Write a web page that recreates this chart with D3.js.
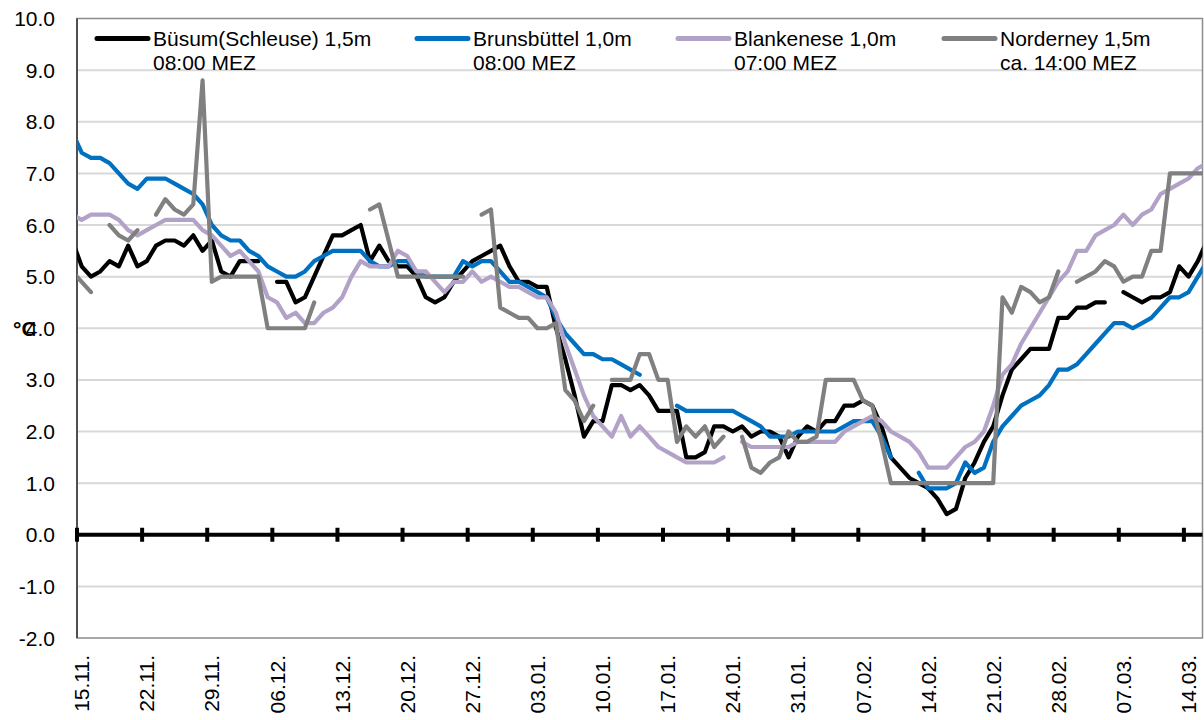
<!DOCTYPE html>
<html>
<head>
<meta charset="utf-8">
<script src="https://cdn.jsdelivr.net/npm/d3@7"></script>
<style>
  html, body { margin: 0; padding: 0; background: #fff; }
  svg { display: block; }
  text { font-family: "Liberation Sans", Arial, sans-serif; }
</style>
</head>
<body>
<svg id="chart" width="1204" height="720"></svg>
<script>
// ---------------- DATA ----------------
// daily values, first entry = 14.11. (just left of the axis), last = 16.03.
const firstDay = -1;   // 14.11. relative to 15.11.
const tickLabels = ["15.11.","22.11.","29.11.","06.12.","13.12.","20.12.","27.12.","03.01.","10.01.","17.01.","24.01.","31.01.","07.02.","14.02.","21.02.","28.02.","07.03.","14.03."];
const yTicks = [-2,-1,0,1,2,3,4,5,6,7,8,9,10];

const busum = [5.7,
 5.2,5.0,5.1,5.3,5.2,5.6,5.2,5.3,5.6,5.7,5.7,5.6,5.8,5.5,5.7,5.1,5.0,5.3,5.3,5.3,
 null,4.9,4.9,4.5,4.6,5.0,5.4,5.8,5.8,5.9,6.0,5.3,5.6,5.3,5.2,5.2,5.0,4.6,4.5,4.6,
 4.9,5.1,5.3,5.4,5.5,5.6,5.2,4.9,4.9,4.8,4.8,4.0,3.4,2.7,1.9,2.2,2.2,2.9,2.9,2.8,
 2.9,2.7,2.4,2.4,2.4,1.5,1.5,1.6,2.1,2.1,2.0,2.1,1.9,2.0,2.0,1.9,1.5,1.9,2.1,2.0,
 2.2,2.2,2.5,2.5,2.6,2.5,2.1,1.5,1.3,1.1,1.0,0.9,0.7,0.4,0.5,1.1,1.4,1.8,2.1,2.7,
 3.2,3.4,3.6,3.6,3.6,4.2,4.2,4.4,4.4,4.5,4.5,null,4.7,4.6,4.5,4.6,4.6,4.7,5.2,5.0,
 5.3,5.7];

const brunsbuettel = [7.8,
 7.4,7.3,7.3,7.2,7.0,6.8,6.7,6.9,6.9,6.9,6.8,6.7,6.6,6.4,6.0,5.8,5.7,5.7,5.5,5.4,
 5.2,5.1,5.0,5.0,5.1,5.3,5.4,5.5,5.5,5.5,5.5,5.3,5.2,5.2,5.3,5.3,5.1,5.0,5.0,5.0,
 5.0,5.3,5.2,5.3,5.3,5.1,4.9,4.9,4.8,4.7,4.6,4.2,3.9,3.7,3.5,3.5,3.4,3.4,3.3,3.2,
 3.1,null,null,null,2.5,2.4,2.4,2.4,2.4,2.4,2.4,2.3,2.2,2.1,1.9,1.9,1.9,2.0,2.0,2.0,
 2.0,2.0,2.1,2.2,2.2,2.2,1.9,1.5,null,null,1.2,0.9,0.9,0.9,1.0,1.4,1.2,1.3,1.8,2.1,
 2.3,2.5,2.6,2.7,2.9,3.2,3.2,3.3,3.5,3.7,3.9,4.1,4.1,4.0,4.1,4.2,4.4,4.6,4.6,4.7,
 5.0,5.3];

const blankenese = [6.2,
 6.1,6.2,6.2,6.2,6.1,5.9,5.8,5.9,6.0,6.1,6.1,6.1,6.1,5.9,5.8,5.6,5.4,5.5,5.3,5.1,
 4.6,4.5,4.2,4.3,4.1,4.1,4.3,4.4,4.6,5.0,5.3,5.2,5.2,5.2,5.5,5.4,5.1,5.1,4.9,4.7,
 4.9,4.9,5.1,4.9,5.0,4.9,4.8,4.8,4.7,4.6,4.6,4.3,3.7,3.2,2.7,2.3,2.1,1.9,2.3,1.9,
 2.1,1.9,1.7,1.6,1.5,1.4,1.4,1.4,1.4,1.5,null,1.8,1.7,1.7,1.7,1.7,1.7,1.8,1.8,1.8,
 1.8,1.8,2.0,2.1,2.2,2.3,2.2,2.0,1.9,1.8,1.6,1.3,1.3,1.3,1.5,1.7,1.8,2.0,2.5,3.1,
 3.3,3.7,4.0,4.3,4.6,4.9,5.1,5.5,5.5,5.8,5.9,6.0,6.2,6.0,6.2,6.3,6.6,6.7,6.8,6.9,
 7.1,7.2];

const norderney = [5.1,
 4.9,4.7,null,6.0,5.8,5.7,5.9,null,6.2,6.5,6.3,6.2,6.4,8.8,4.9,5.0,5.0,5.0,5.0,5.0,
 4.0,4.0,4.0,4.0,4.0,4.5,null,null,null,null,null,6.3,6.4,5.7,5.0,5.0,5.0,5.0,5.0,5.0,
 5.0,5.0,null,6.2,6.3,4.4,4.3,4.2,4.2,4.0,4.0,4.1,2.8,2.6,2.2,2.5,null,3.0,3.0,3.0,
 3.5,3.5,3.0,3.0,1.8,2.1,1.9,2.1,1.7,1.9,null,1.9,1.3,1.2,1.4,1.5,2.0,1.8,1.8,1.9,
 3.0,3.0,3.0,3.0,2.6,2.5,1.8,1.0,1.0,1.0,1.0,1.0,1.0,1.0,1.0,1.0,1.0,1.0,1.0,4.6,
 4.3,4.8,4.7,4.5,4.6,5.1,null,4.9,5.0,5.1,5.3,5.2,4.9,5.0,5.0,5.5,5.5,7.0,7.0,7.0,
 7.0,7.0];

const seriesNames = [
  ["Büsum(Schleuse) 1,5m", "08:00 MEZ"],
  ["Brunsbüttel 1,0m", "08:00 MEZ"],
  ["Blankenese 1,0m", "07:00 MEZ"],
  ["Norderney 1,5m", "ca. 14:00 MEZ"]
];
const seriesValues = [busum, brunsbuettel, blankenese, norderney];
const seriesColors = ["#000000", "#0070C0", "#B3A2C7", "#808080"];

// ---------------- LAYOUT ----------------
const plot = { left: 77, right: 1202.5, top: 18.5, bottom: 638 };
const totalDays = 121;
const legendX = [97, 417, 678, 944];
const fontSize = 21;

const svg = d3.select("#chart");

const x = d3.scaleLinear().domain([0, totalDays]).range([plot.left, plot.right]);
const y = d3.scaleLinear().domain([-2, 10]).range([plot.bottom, plot.top]);

// clip
svg.append("defs").append("clipPath").attr("id", "plotClip")
  .append("rect")
  .attr("x", plot.left).attr("y", plot.top)
  .attr("width", plot.right - plot.left).attr("height", plot.bottom - plot.top);

// gridlines
svg.append("g").selectAll("line")
  .data(yTicks.filter(v => v > -2 && v < 10))
  .join("line")
  .attr("x1", plot.left).attr("x2", plot.right)
  .attr("y1", d => y(d)).attr("y2", d => y(d))
  .attr("stroke", "#d9d9d9").attr("stroke-width", 2);

// plot border
svg.append("rect")
  .attr("x", plot.left).attr("y", plot.top)
  .attr("width", plot.right - plot.left).attr("height", plot.bottom - plot.top)
  .attr("fill", "none").attr("stroke", "#8c8c8c").attr("stroke-width", 1.5);

// left axis line
svg.append("line")
  .attr("x1", plot.left).attr("x2", plot.left)
  .attr("y1", plot.top).attr("y2", plot.bottom)
  .attr("stroke", "#3a3a3a").attr("stroke-width", 1.6);

// y labels
svg.append("g").selectAll("text")
  .data(yTicks)
  .join("text")
  .attr("x", 55).attr("y", d => y(d))
  .attr("dy", "0.36em")
  .attr("text-anchor", "end")
  .attr("font-size", fontSize)
  .attr("fill", "#000")
  .text(d => d.toFixed(1));

// y unit label
svg.append("text")
  .attr("x", 13).attr("y", y(4)).attr("dy", "0.36em")
  .attr("font-size", fontSize).attr("font-weight", "bold")
  .text("°C");

// zero line (category axis) with ticks
const tickDays = tickLabels.map((_, i) => i * 7);
svg.append("line")
  .attr("x1", plot.left).attr("x2", plot.right)
  .attr("y1", y(0)).attr("y2", y(0))
  .attr("stroke", "#000").attr("stroke-width", 4);
svg.append("g").selectAll("line")
  .data(tickDays)
  .join("line")
  .attr("x1", d => x(d)).attr("x2", d => x(d))
  .attr("y1", y(0) - 7).attr("y2", y(0) + 7)
  .attr("stroke", "#000").attr("stroke-width", 4);

// x labels (rotated)
svg.append("g").selectAll("text")
  .data(tickLabels)
  .join("text")
  .attr("transform", (d, i) => `translate(${x(tickDays[i] + 0.5)},655) rotate(-90)`)
  .attr("dy", "0.36em")
  .attr("text-anchor", "end")
  .attr("font-size", fontSize)
  .attr("fill", "#000")
  .text(d => d);

// series lines
const line = d3.line()
  .defined(d => d.v !== null)
  .x(d => x(d.day + 0.5))
  .y(d => y(d.v));

const gLines = svg.append("g").attr("clip-path", "url(#plotClip)");
seriesValues.forEach((vals, si) => {
  const pts = vals.map((v, i) => ({ day: firstDay + i, v: v }));
  gLines.append("path")
    .datum(pts)
    .attr("d", line)
    .attr("fill", "none")
    .attr("stroke", seriesColors[si])
    .attr("stroke-width", 4.2)
    .attr("stroke-linejoin", "round")
    .attr("stroke-linecap", "round");
});

// legend
const lg = svg.append("g");
seriesNames.forEach((nm, si) => {
  const lx = legendX[si];
  lg.append("line")
    .attr("x1", lx).attr("x2", lx + 51)
    .attr("y1", 38.5).attr("y2", 38.5)
    .attr("stroke", seriesColors[si]).attr("stroke-width", 5)
    .attr("stroke-linecap", "round");
  const t = lg.append("text")
    .attr("x", lx + 56).attr("y", 45.5)
    .attr("font-size", fontSize).attr("fill", "#000");
  t.append("tspan").attr("x", lx + 56).attr("y", 45.5).text(nm[0]);
  t.append("tspan").attr("x", lx + 56).attr("y", 69.5).text(nm[1]);
});
</script>
</body>
</html>
